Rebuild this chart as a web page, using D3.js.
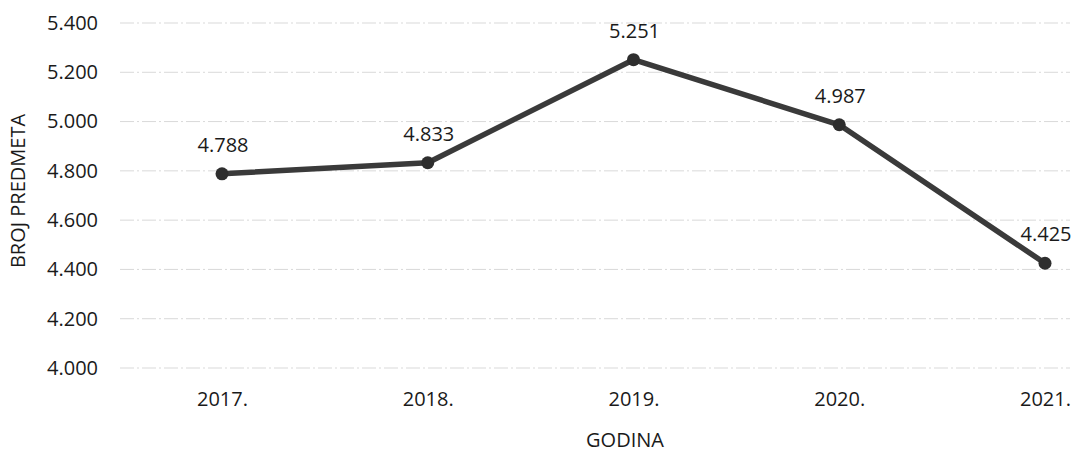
<!DOCTYPE html>
<html>
<head>
<meta charset="utf-8">
<script src="https://cdn.jsdelivr.net/npm/d3@7"></script>
<style>
  body { margin: 0; background: #fff; }
  svg text { font-family: "Open Sans", "Liberation Sans", sans-serif; fill: #1a1a1a; }
</style>
</head>
<body>
<div id="chart"></div>
<script>
// chart data
var years = ["2017.", "2018.", "2019.", "2020.", "2021."];
var cases = [4788, 4833, 5251, 4987, 4425];
var yTicks = [4000, 4200, 4400, 4600, 4800, 5000, 5200, 5400];

var width = 1073, height = 452;
var margin = {top: 23, right: 28, bottom: 83, left: 120};
var fontSize = "20px";

var svg = d3.select("#chart").append("svg")
    .attr("width", width)
    .attr("height", height);

var x = d3.scalePoint()
    .domain(years)
    .range([222, 1045]);

var y = d3.scaleLinear()
    .domain([4000, 5400])
    .range([height - margin.bottom - 1, margin.top]);

// thousands with a dot, like the original
var fmt = function(v){ return d3.format(".3f")(v / 1000); };

// gridlines
svg.append("g").selectAll("line")
    .data(yTicks)
    .enter().append("line")
    .attr("x1", margin.left)
    .attr("x2", width - 3)
    .attr("y1", function(d){ return y(d); })
    .attr("y2", function(d){ return y(d); })
    .attr("stroke", "#d9d9d9")
    .attr("stroke-width", 1)
    .attr("stroke-dasharray", "14,3,2,3");

// y axis labels
var yAxis = d3.axisLeft(y).tickValues(yTicks).tickFormat(fmt).tickSize(0).tickPadding(0);
svg.append("g")
    .attr("transform", "translate(" + 98 + ",0)")
    .call(yAxis)
    .call(function(g){ g.select(".domain").remove(); })
    .selectAll("text")
    .style("font-size", fontSize)
    .attr("fill", "#1a1a1a");

// x axis labels
var xAxis = d3.axisBottom(x).tickSize(0).tickPadding(0);
svg.append("g")
    .attr("transform", "translate(0," + 392 + ")")
    .call(xAxis)
    .call(function(g){ g.select(".domain").remove(); })
    .selectAll("text")
    .style("font-size", fontSize)
    .attr("fill", "#1a1a1a");

// axis titles
svg.append("text")
    .attr("transform", "translate(25,191) rotate(-90)")
    .attr("text-anchor", "middle")
    .style("font-size", fontSize)
    .text("BROJ PREDMETA");

svg.append("text")
    .attr("x", 625)
    .attr("y", 447)
    .attr("text-anchor", "middle")
    .style("font-size", fontSize)
    .text("GODINA");

// line
var line = d3.line()
    .x(function(d, i){ return x(years[i]); })
    .y(function(d){ return y(d); });

svg.append("path")
    .datum(cases)
    .attr("fill", "none")
    .attr("stroke", "#3a3a3a")
    .attr("stroke-width", 5.5)
    .attr("stroke-linejoin", "round")
    .attr("d", line);

svg.append("g").selectAll("circle")
    .data(cases)
    .enter().append("circle")
    .attr("cx", function(d, i){ return x(years[i]); })
    .attr("cy", function(d){ return y(d); })
    .attr("r", 6.5)
    .attr("fill", "#2e2e2e");

// value labels
svg.append("g").selectAll("text")
    .data(cases)
    .enter().append("text")
    .attr("x", function(d, i){ return x(years[i]) + 1; })
    .attr("y", function(d){ return y(d) - 22; })
    .attr("text-anchor", "middle")
    .style("font-size", fontSize)
    .text(fmt);
</script>
</body>
</html>
